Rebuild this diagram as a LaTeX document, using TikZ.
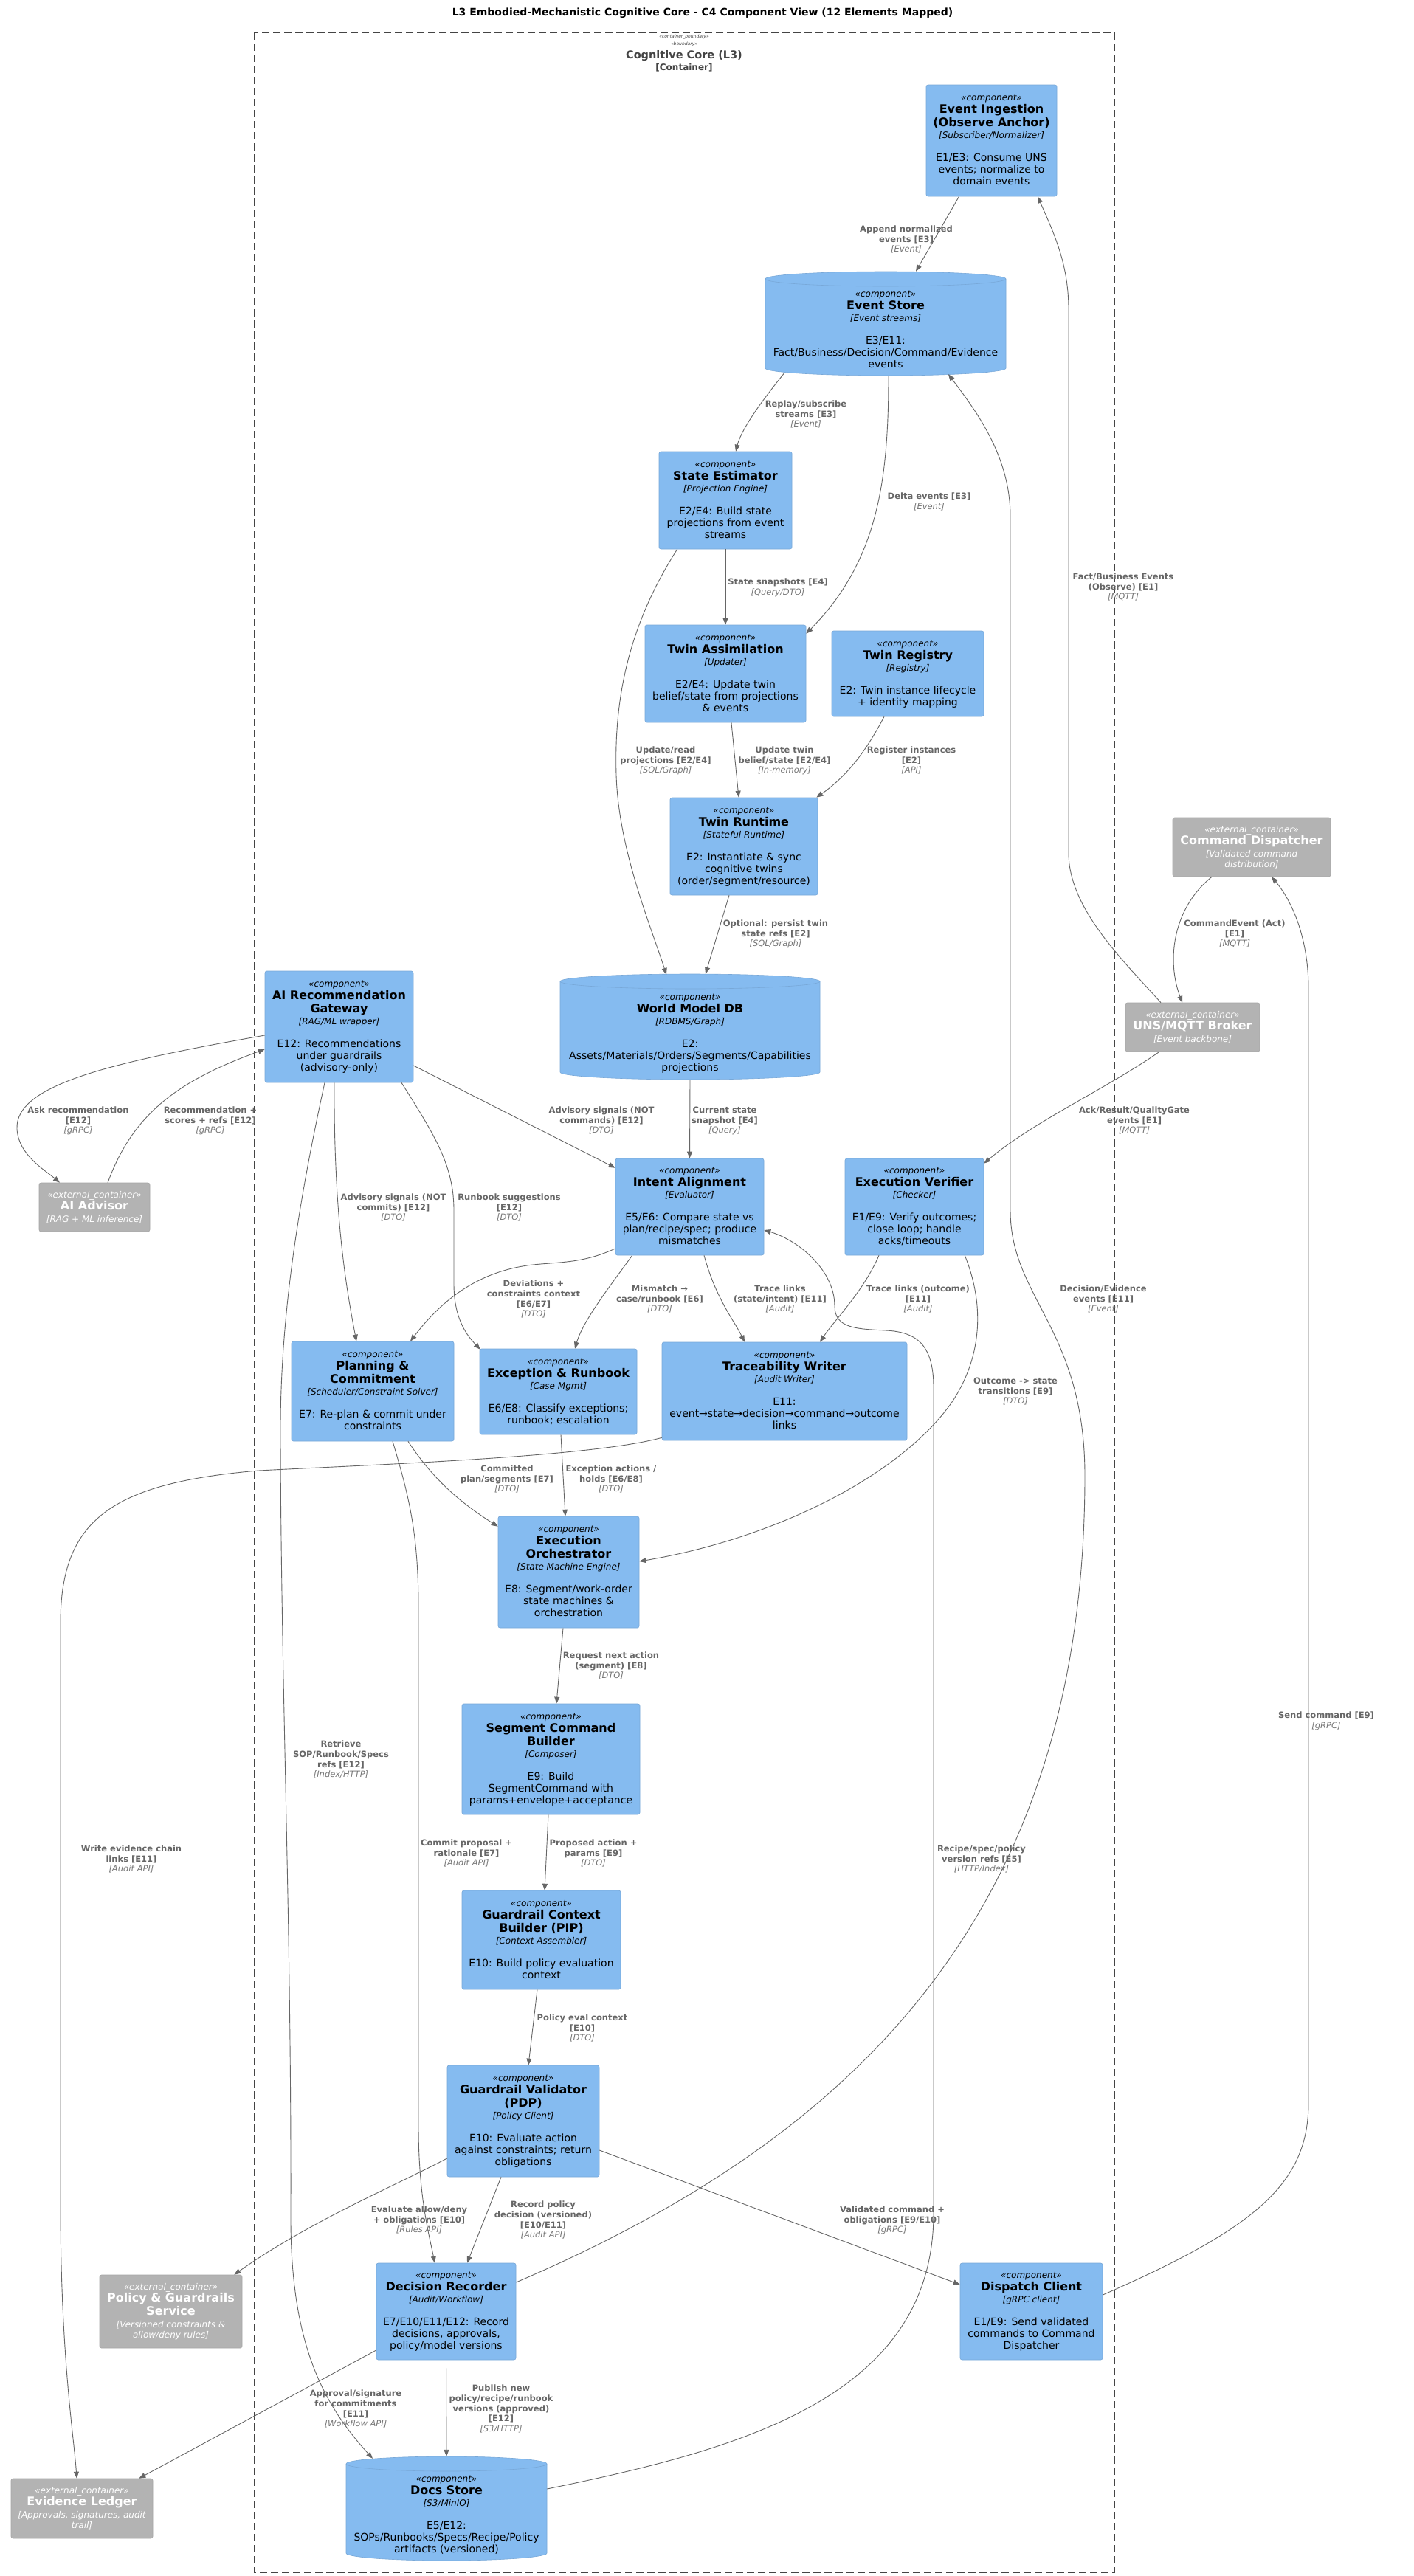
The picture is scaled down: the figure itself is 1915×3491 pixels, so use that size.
\documentclass[tikz,border=0pt]{standalone}
\usepackage{fontspec}
\setmainfont{DejaVu Sans}[BoldFont={DejaVu Sans Bold},ItalicFont={DejaVu Sans Oblique},BoldItalicFont={DejaVu Sans Bold Oblique}]
\usetikzlibrary{arrows.meta,calc}
\definecolor{compfill}{HTML}{85BBF0}
\definecolor{compline}{HTML}{78A8D8}
\definecolor{extfill}{HTML}{B3B3B3}
\definecolor{extline}{HTML}{A6A6A6}
\definecolor{relgray}{HTML}{666666}
\definecolor{lblgray}{HTML}{666666}
\definecolor{techgray}{HTML}{777777}
\definecolor{bndgray}{HTML}{444444}
\newcommand{\TB}[1]{\vbox{\offinterlineskip\halign{\hfil##\hfil\cr#1}}}
\newcommand{\RS}[1]{\vrule height10pt depth4pt width0pt{\fontsize{12}{14}\selectfont\itshape #1}}
\newcommand{\RT}[1]{\vrule height13pt depth5pt width0pt{\fontsize{16}{18}\selectfont\bfseries #1}}
\newcommand{\RK}[1]{\vrule height11pt depth4pt width0pt{\fontsize{12}{14}\selectfont\itshape #1}}
\newcommand{\RG}{\vrule height15pt depth0pt width0pt}
\newcommand{\RD}[1]{\vrule height12pt depth4pt width0pt{\fontsize{14}{16}\selectfont #1}}
\newcommand{\ES}[1]{\vrule height9pt depth3pt width0pt{\fontsize{12}{14}\selectfont\itshape #1}}
\newcommand{\ET}[1]{\vrule height13pt depth5pt width0pt{\fontsize{16}{18}\selectfont\bfseries #1}}
\newcommand{\EK}[1]{\vrule height12pt depth2pt width0pt{\fontsize{12}{14}\selectfont\itshape #1}}
\newcommand{\LB}[1]{\vrule height10pt depth3.7pt width0pt{\fontsize{11.5}{13.7}\selectfont\bfseries\color{lblgray}#1}}
\newcommand{\LI}[1]{\vrule height10pt depth3.7pt width0pt{\fontsize{11.5}{13.7}\selectfont\itshape\color{techgray}#1}}
\newcommand{\cyl}[4]{%
  \pgfmathsetmacro\cL{#1-#3/2}\pgfmathsetmacro\cR{#1+#3/2}%
  \pgfmathsetmacro\cT{#2-#4/2+10}\pgfmathsetmacro\cB{#2+#4/2-10}%
  \pgfmathsetmacro\cRx{#3/2}%
  \filldraw[fill=compfill,draw=compline,line width=0.6pt] (\cL,\cT) -- (\cL,\cB) arc[start angle=180,end angle=0,x radius=\cRx,y radius=10] -- (\cR,\cT) arc[start angle=0,end angle=-180,x radius=\cRx,y radius=10] -- cycle;
  \draw[compline,line width=0.6pt] (\cL,\cT) arc[start angle=180,end angle=0,x radius=\cRx,y radius=10];
}
\tikzset{
  comp/.style={draw=compline,fill=compfill,rounded corners=2.5pt,line width=0.6pt,inner sep=0pt,text=black},
  ext/.style={draw=extline,fill=extfill,rounded corners=2.5pt,line width=0.6pt,inner sep=0pt,text=white},
  ghost/.style={inner sep=0pt,draw=none},
  rel/.style={draw=relgray,line width=0.9pt,-{Triangle[length=9pt,width=7pt]}},
  lbl/.style={inner sep=0pt},
  bnd/.style={draw=bndgray,line width=1pt,dash pattern=on 10pt off 5pt}
}
\begin{document}
\begin{tikzpicture}[x=1pt,y=-1pt]
\fill[white] (0,0) rectangle (1915,3491);
\useasboundingbox (0,0) rectangle (1915,3491);

\node[lbl] (title) at (952,18) {\fontsize{14}{16}\selectfont\bfseries L3 Embodied-Mechanistic Cognitive Core - C4 Component View (12 Elements Mapped)};

% boundary
\draw[bnd] (344,44) rectangle (1510,3486);
\node[lbl,text=bndgray] (bst1) at (927,50) {\fontsize{6}{7}\selectfont\itshape «container\_boundary»};
\node[lbl,text=bndgray] (bst2) at (927,60) {\fontsize{6}{7}\selectfont\itshape «boundary»};
\node[lbl,text=bndgray] (bname) at (927,76) {\fontsize{14.5}{17}\selectfont\bfseries Cognitive Core (L3)};
\node[lbl,text=bndgray] (btype) at (927,92) {\fontsize{12}{14}\selectfont\bfseries [Container]};

% cylinders
\cyl{1200}{438.5}{326}{141}
\cyl{935}{1391.5}{352}{143}
\cyl{605}{3399.5}{272}{141}
\node[ghost,minimum width=326pt,minimum height=141pt] (es) at (1200,438.5) {};
\node[lbl] (es-t) at (1200,447) {\TB{\RS{«component»}\cr\RT{Event Store}\cr\RK{[Event streams]}\cr\RG\cr\RD{E3/E11:}\cr\RD{Fact/Business/Decision/Command/Evidence}\cr\RD{events}\cr}};
\node[ghost,minimum width=352pt,minimum height=143pt] (wm) at (935,1391.5) {};
\node[lbl] (wm-t) at (935,1400) {\TB{\RS{«component»}\cr\RT{World Model DB}\cr\RK{[RDBMS/Graph]}\cr\RG\cr\RD{E2:}\cr\RD{Assets/Materials/Orders/Segments/Capabilities}\cr\RD{projections}\cr}};
\node[ghost,minimum width=272pt,minimum height=141pt] (ds) at (605,3399.5) {};
\node[lbl] (ds-t) at (605,3408) {\TB{\RS{«component»}\cr\RT{Docs Store}\cr\RK{[S3/MinIO]}\cr\RG\cr\RD{E5/E12:}\cr\RD{SOPs/Runbooks/Specs/Recipe/Policy}\cr\RD{artifacts (versioned)}\cr}};

% components
\node[comp,minimum width=177pt,minimum height=151pt] (ei) at (1343.5,190.5) {\TB{\RS{«component»}\cr\RT{Event Ingestion}\cr\RT{(Observe Anchor)}\cr\RK{[Subscriber/Normalizer]}\cr\RG\cr\RD{E1/E3: Consume UNS}\cr\RD{events; normalize to}\cr\RD{domain events}\cr}};
\node[comp,minimum width=180pt,minimum height=132pt] (se) at (983,678) {\TB{\RS{«component»}\cr\RT{State Estimator}\cr\RK{[Projection Engine]}\cr\RG\cr\RD{E2/E4: Build state}\cr\RD{projections from event}\cr\RD{streams}\cr}};
\node[comp,minimum width=218pt,minimum height=132pt] (ta) at (983,913) {\TB{\RS{«component»}\cr\RT{Twin Assimilation}\cr\RK{[Updater]}\cr\RG\cr\RD{E2/E4: Update twin}\cr\RD{belief/state from projections}\cr\RD{\& events}\cr}};
\node[comp,minimum width=206pt,minimum height=116pt] (tr) at (1230,913) {\TB{\RS{«component»}\cr\RT{Twin Registry}\cr\RK{[Registry]}\cr\RG\cr\RD{E2: Twin instance lifecycle}\cr\RD{+ identity mapping}\cr}};
\node[comp,minimum width=200pt,minimum height=132pt] (rt) at (1008,1147) {\TB{\RS{«component»}\cr\RT{Twin Runtime}\cr\RK{[Stateful Runtime]}\cr\RG\cr\RD{E2: Instantiate \& sync}\cr\RD{cognitive twins}\cr\RD{(order/segment/resource)}\cr}};
\node[comp,minimum width=201pt,minimum height=151pt] (ag) at (459.5,1391.5) {\TB{\RS{«component»}\cr\RT{AI Recommendation}\cr\RT{Gateway}\cr\RK{[RAG/ML wrapper]}\cr\RG\cr\RD{E12: Recommendations}\cr\RD{under guardrails}\cr\RD{(advisory-only)}\cr}};
\node[comp,minimum width=201pt,minimum height=131pt] (ia) at (934.5,1635.5) {\TB{\RS{«component»}\cr\RT{Intent Alignment}\cr\RK{[Evaluator]}\cr\RG\cr\RD{E5/E6: Compare state vs}\cr\RD{plan/recipe/spec; produce}\cr\RD{mismatches}\cr}};
\node[comp,minimum width=188pt,minimum height=131pt] (ev) at (1239,1635.5) {\TB{\RS{«component»}\cr\RT{Execution Verifier}\cr\RK{[Checker]}\cr\RG\cr\RD{E1/E9: Verify outcomes;}\cr\RD{close loop; handle}\cr\RD{acks/timeouts}\cr}};
\node[comp,minimum width=220pt,minimum height=135pt] (pc) at (505,1885.5) {\TB{\RS{«component»}\cr\RT{Planning \&}\cr\RT{Commitment}\cr\RK{[Scheduler/Constraint Solver]}\cr\RG\cr\RD{E7: Re-plan \& commit under}\cr\RD{constraints}\cr}};
\node[comp,minimum width=213pt,minimum height=116pt] (er) at (756.5,1886) {\TB{\RS{«component»}\cr\RT{Exception \& Runbook}\cr\RK{[Case Mgmt]}\cr\RG\cr\RD{E6/E8: Classify exceptions;}\cr\RD{runbook; escalation}\cr}};
\node[comp,minimum width=332pt,minimum height=133pt] (tw) at (1063,1885.5) {\TB{\RS{«component»}\cr\RT{Traceability Writer}\cr\RK{[Audit Writer]}\cr\RG\cr\RD{E11:}\cr\RD{event→state→decision→command→outcome}\cr\RD{links}\cr}};
\node[comp,minimum width=191pt,minimum height=151pt] (eo) at (770.5,2130.5) {\TB{\RS{«component»}\cr\RT{Execution}\cr\RT{Orchestrator}\cr\RK{[State Machine Engine]}\cr\RG\cr\RD{E8: Segment/work-order}\cr\RD{state machines \&}\cr\RD{orchestration}\cr}};
\node[comp,minimum width=241pt,minimum height=150pt] (sb) at (746.5,2384) {\TB{\RS{«component»}\cr\RT{Segment Command}\cr\RT{Builder}\cr\RK{[Composer]}\cr\RG\cr\RD{E9: Build}\cr\RD{SegmentCommand with}\cr\RD{params+envelope+acceptance}\cr}};
\node[comp,minimum width=215pt,minimum height=134pt] (gc) at (733.5,2629) {\TB{\RS{«component»}\cr\RT{Guardrail Context}\cr\RT{Builder (PIP)}\cr\RK{[Context Assembler]}\cr\RG\cr\RD{E10: Build policy evaluation}\cr\RD{context}\cr}};
\node[comp,minimum width=206pt,minimum height=151pt] (gv) at (709,2874.5) {\TB{\RS{«component»}\cr\RT{Guardrail Validator}\cr\RT{(PDP)}\cr\RK{[Policy Client]}\cr\RG\cr\RD{E10: Evaluate action}\cr\RD{against constraints; return}\cr\RD{obligations}\cr}};
\node[comp,minimum width=189pt,minimum height=131pt] (dr) at (604.5,3132.5) {\TB{\RS{«component»}\cr\RT{Decision Recorder}\cr\RK{[Audit/Workflow]}\cr\RG\cr\RD{E7/E10/E11/E12: Record}\cr\RD{decisions, approvals,}\cr\RD{policy/model versions}\cr}};
\node[comp,minimum width=193pt,minimum height=131pt] (dc) at (1397.5,3132.5) {\TB{\RS{«component»}\cr\RT{Dispatch Client}\cr\RK{[gRPC client]}\cr\RG\cr\RD{E1/E9: Send validated}\cr\RD{commands to Command}\cr\RD{Dispatcher}\cr}};

% external containers
\node[ext,minimum width=214pt,minimum height=80pt] (cd) at (1696,1148) {\TB{\ES{«external\_container»}\cr\ET{Command Dispatcher}\cr\EK{[Validated command}\cr\EK{distribution]}\cr}};
\node[ext,minimum width=182pt,minimum height=66pt] (mq) at (1616,1392) {\TB{\ES{«external\_container»}\cr\ET{UNS/MQTT Broker}\cr\EK{[Event backbone]}\cr}};
\node[ext,minimum width=150pt,minimum height=66pt] (aa) at (128,1636) {\TB{\ES{«external\_container»}\cr\ET{AI Advisor}\cr\EK{[RAG + ML inference]}\cr}};
\node[ext,minimum width=193pt,minimum height=99pt] (pg) at (231.5,3132.5) {\TB{\ES{«external\_container»}\cr\ET{Policy \& Guardrails}\cr\ET{Service}\cr\EK{[Versioned constraints \&}\cr\EK{allow/deny rules]}\cr}};
\node[ext,minimum width=192pt,minimum height=81pt] (el) at (111,3399.5) {\TB{\ES{«external\_container»}\cr\ET{Evidence Ledger}\cr\EK{[Approvals, signatures, audit}\cr\EK{trail]}\cr}};

% relations
\draw[rel] ($(ei.south)+(-44,0)$) -- ($(es.north)+(41,0)$);
\draw[rel] ($(mq.north)+(-43,0)$) .. controls (1520,1300) and (1448,1230) .. (1448,1156) -- (1448,420) .. controls (1448,360) and (1430,320) .. ($(ei.south)+(62.5,0)$);
\draw[rel] ($(es.south)+(-137,-4)$) .. controls (1035,540) and (1005,580) .. ($(se.north)+(14,0)$);
\draw[rel] ($(es.south)+(4,0)$) .. controls (1204,650) and (1190,760) .. ($(ta.north east)+(0,12)$);
\draw[rel] ($(dr.east)+(0,-39.5)$) .. controls (1150,2900) and (1470,2600) .. (1470,2000) .. controls (1470,1800) and (1369,1760) .. (1369,1640) -- (1369,700) .. controls (1369,620) and (1325,560) .. ($(es.south)+(85,-2)$);
\draw[rel] (se.south) -- (ta.north);
\draw[rel] ($(se.south west)+(25,0)$) .. controls (850,850) and (832,950) .. (835,1050) .. controls (838,1150) and (880,1250) .. ($(wm.north)+(-32,1)$);
\draw[rel] ($(ta.south)+(8,0)$) -- ($(rt.north)+(-7,0)$);
\draw[rel] ($(tr.south)+(-32,0)$) .. controls (1175,1015) and (1150,1050) .. ($(rt.north east)+(-2,0)$);
\draw[rel] ($(rt.south)+(-20,0)$) -- ($(wm.north)+(21,0)$);
\draw[rel] ($(cd.south)+(-54,0)$) .. controls (1590,1230) and (1580,1300) .. ($(mq.north)+(-14,0)$);
\draw[rel] ($(dc.east)+(0,-22.5)$) .. controls (1700,3020) and (1773,2960) .. (1773,2850) -- (1773,1340) .. controls (1773,1270) and (1750,1220) .. ($(cd.south)+(27,0)$);
\draw[rel] ($(mq.south)+(-45,0)$) .. controls (1500,1475) and (1400,1520) .. ($(ev.north east)+(0,7)$);
\draw[rel] (wm.south) -- (ia.north);
\draw[rel] ($(ag.east)+(0,52.5)$) -- ($(ia.north west)+(0,13)$);
\draw[rel] ($(ag.west)+(0,11.5)$) .. controls (150,1440) and (20,1470) .. (23,1530) .. controls (25,1565) and (60,1585) .. ($(aa.north)+(-47,0)$);
\draw[rel] ($(aa.north)+(18,0)$) .. controls (180,1510) and (240,1465) .. ($(ag.west)+(0,30.5)$);
\draw[rel] ($(ag.south)+(-6.5,0)$) .. controls (452,1650) and (470,1750) .. ($(pc.north)+(-22,0)$);
\draw[rel] ($(ag.south)+(84.5,0)$) .. controls (590,1540) and (615,1580) .. (615,1640) -- (615,1740) .. controls (615,1790) and (635,1812) .. ($(er.north west)+(1,1)$);
\draw[rel] ($(ag.south)+(-19.5,0)$) .. controls (400,1650) and (379,1800) .. (380,1950) .. controls (381,2300) and (395,2600) .. (394,3000) .. controls (393,3180) and (440,3260) .. ($(ds.north)+(-100,3)$);
\draw[rel] ($(ia.west)+(0,56.5)$) .. controls (790,1712) and (760,1710) .. (722,1714) .. controls (650,1722) and (600,1760) .. ($(pc.north)+(51,0)$);
\draw[rel] ($(ia.south west)+(23,0)$) .. controls (825,1745) and (790,1790) .. ($(er.north)+(22.5,0)$);
\draw[rel] ($(ia.south)+(19.5,0)$) .. controls (970,1760) and (995,1790) .. ($(tw.north)+(-54,0)$);
\draw[rel] ($(ev.south)+(-48,0)$) .. controls (1170,1750) and (1130,1790) .. ($(tw.north)+(48,0)$);
\draw[rel] ($(ev.south east)+(-26,0)$) .. controls (1335,1770) and (1330,1840) .. (1290,1900) .. controls (1220,2000) and (1050,2085) .. ($(eo.east)+(0,-14.5)$);
\draw[rel] ($(pc.south)+(48,0)$) .. controls (590,2010) and (630,2040) .. ($(eo.north west)+(0,14)$);
\draw[rel] ($(er.south)+(3.5,0)$) -- ($(eo.north)+(-4.5,0)$);
\draw[rel] ($(eo.south)+(-7.5,0)$) -- ($(sb.north)+(7.5,0)$);
\draw[rel] ($(sb.south)+(-3.5,0)$) -- ($(gc.north)+(4.5,0)$);
\draw[rel] ($(gc.south)+(-5.5,0)$) -- ($(gv.north)+(7,0)$);
\draw[rel] ($(gv.west)+(0,50.5)$) .. controls (540,2960) and (420,3010) .. ($(pg.north east)+(-11,0)$);
\draw[rel] ($(gv.south)+(-30,0)$) -- ($(dr.north)+(28.5,0)$);
\draw[rel] ($(gv.east)+(0,39.5)$) -- ($(dc.west)+(0,-36.5)$);
\draw[rel] ($(dr.west)+(0,52.5)$) -- ($(el.north east)+(-19,0)$);
\draw[rel] (dr.south) -- (ds.north);
\draw[rel] ($(pc.south)+(27,0)$) .. controls (555,2030) and (567,2080) .. (567,2180) -- (567,2880) .. controls (567,2980) and (582,3030) .. ($(dr.north)+(-15.5,0)$);
\draw[rel] ($(ds.east)+(0,-26.5)$) .. controls (1000,3320) and (1265,3250) .. (1265,3000) -- (1265,1880) .. controls (1265,1820) and (1240,1805) .. (1200,1803) .. controls (1160,1801) and (1131,1800) .. (1131,1770) .. controls (1131,1720) and (1080,1680) .. ($(ia.east)+(0,31.5)$);
\draw[rel] ($(tw.south west)+(0,-4)$) .. controls (800,1975) and (500,1985) .. (350,1993) .. controls (150,2010) and (82,2060) .. (82,2200) -- (82,3000) .. controls (83,3200) and (100,3300) .. ($(el.north)+(-7,0)$);

% labels
\node[lbl] (l1) at (1228,325) {\TB{\LB{Append normalized}\cr\LB{events [E3]}\cr\LI{[Event]}\cr}};
\node[lbl] (l2) at (1522,796) {\TB{\LB{Fact/Business Events}\cr\LB{(Observe) [E1]}\cr\LI{[MQTT]}\cr}};
\node[lbl] (l3) at (1092,562) {\TB{\LB{Replay/subscribe}\cr\LB{streams [E3]}\cr\LI{[Event]}\cr}};
\node[lbl] (l4) at (1259,680) {\TB{\LB{Delta events [E3]}\cr\LI{[Event]}\cr}};
\node[lbl] (l5) at (1495,1761) {\TB{\LB{Decision/Evidence}\cr\LB{events [E11]}\cr\LI{[Event]}\cr}};
\node[lbl] (l6) at (1054,796) {\TB{\LB{State snapshots [E4]}\cr\LI{[Query/DTO]}\cr}};
\node[lbl] (l7) at (902,1031) {\TB{\LB{Update/read}\cr\LB{projections [E2/E4]}\cr\LI{[SQL/Graph]}\cr}};
\node[lbl] (l8) at (1063,1031) {\TB{\LB{Update twin}\cr\LB{belief/state [E2/E4]}\cr\LI{[In-memory]}\cr}};
\node[lbl] (l9) at (1235,1031) {\TB{\LB{Register instances}\cr\LB{[E2]}\cr\LI{[API]}\cr}};
\node[lbl] (l10) at (1051,1266) {\TB{\LB{Optional: persist twin}\cr\LB{state refs [E2]}\cr\LI{[SQL/Graph]}\cr}};
\node[lbl] (l11) at (1673,1266) {\TB{\LB{CommandEvent (Act)}\cr\LB{[E1]}\cr\LI{[MQTT]}\cr}};
\node[lbl] (l12) at (1797,2332) {\TB{\LB{Send command [E9]}\cr\LI{[gRPC]}\cr}};
\node[lbl] (l13) at (1537,1519) {\TB{\LB{Ack/Result/QualityGate}\cr\LB{events [E1]}\cr\LI{[MQTT]}\cr}};
\node[lbl] (l14) at (982,1519) {\TB{\LB{Current state}\cr\LB{snapshot [E4]}\cr\LI{[Query]}\cr}};
\node[lbl] (l15) at (815,1519) {\TB{\LB{Advisory signals (NOT}\cr\LB{commands) [E12]}\cr\LI{[DTO]}\cr}};
\node[lbl] (l16) at (106,1519) {\TB{\LB{Ask recommendation}\cr\LB{[E12]}\cr\LI{[gRPC]}\cr}};
\node[lbl] (l17) at (285,1519) {\TB{\LB{Recommendation +}\cr\LB{scores + refs [E12]}\cr\LI{[gRPC]}\cr}};
\node[lbl] (l18) at (533,1637) {\TB{\LB{Advisory signals (NOT}\cr\LB{commits) [E12]}\cr\LI{[DTO]}\cr}};
\node[lbl] (l19) at (690,1637) {\TB{\LB{Runbook suggestions}\cr\LB{[E12]}\cr\LI{[DTO]}\cr}};
\node[lbl] (l20) at (462,2385) {\TB{\LB{Retrieve}\cr\LB{SOP/Runbook/Specs}\cr\LB{refs [E12]}\cr\LI{[Index/HTTP]}\cr}};
\node[lbl] (l21) at (723,1761) {\TB{\LB{Deviations +}\cr\LB{constraints context}\cr\LB{[E6/E7]}\cr\LI{[DTO]}\cr}};
\node[lbl] (l22) at (894,1761) {\TB{\LB{Mismatch →}\cr\LB{case/runbook [E6]}\cr\LI{[DTO]}\cr}};
\node[lbl] (l23) at (1057,1761) {\TB{\LB{Trace links}\cr\LB{(state/intent) [E11]}\cr\LI{[Audit]}\cr}};
\node[lbl] (l24) at (1244,1761) {\TB{\LB{Trace links (outcome)}\cr\LB{[E11]}\cr\LI{[Audit]}\cr}};
\node[lbl] (l25) at (1376,1886) {\TB{\LB{Outcome -> state}\cr\LB{transitions [E9]}\cr\LI{[DTO]}\cr}};
\node[lbl] (l26) at (687,2005) {\TB{\LB{Committed}\cr\LB{plan/segments [E7]}\cr\LI{[DTO]}\cr}};
\node[lbl] (l27) at (828,2005) {\TB{\LB{Exception actions /}\cr\LB{holds [E6/E8]}\cr\LI{[DTO]}\cr}};
\node[lbl] (l28) at (828,2258) {\TB{\LB{Request next action}\cr\LB{(segment) [E8]}\cr\LI{[DTO]}\cr}};
\node[lbl] (l29) at (804,2512) {\TB{\LB{Proposed action +}\cr\LB{params [E9]}\cr\LI{[DTO]}\cr}};
\node[lbl] (l30) at (789,2749) {\TB{\LB{Policy eval context}\cr\LB{[E10]}\cr\LI{[DTO]}\cr}};
\node[lbl] (l31) at (568,3009) {\TB{\LB{Evaluate allow/deny}\cr\LB{+ obligations [E10]}\cr\LI{[Rules API]}\cr}};
\node[lbl] (l32) at (736,3009) {\TB{\LB{Record policy}\cr\LB{decision (versioned)}\cr\LB{[E10/E11]}\cr\LI{[Audit API]}\cr}};
\node[lbl] (l33) at (1209,3009) {\TB{\LB{Validated command +}\cr\LB{obligations [E9/E10]}\cr\LI{[gRPC]}\cr}};
\node[lbl] (l34) at (482,3265) {\TB{\LB{Approval/signature}\cr\LB{for commitments}\cr\LB{[E11]}\cr\LI{[Workflow API]}\cr}};
\node[lbl] (l35) at (679,3265) {\TB{\LB{Publish new}\cr\LB{policy/recipe/runbook}\cr\LB{versions (approved)}\cr\LB{[E12]}\cr\LI{[S3/HTTP]}\cr}};
\node[lbl] (l36) at (632,2512) {\TB{\LB{Commit proposal +}\cr\LB{rationale [E7]}\cr\LI{[Audit API]}\cr}};
\node[lbl] (l37) at (1330,2520) {\TB{\LB{Recipe/spec/policy}\cr\LB{version refs [E5]}\cr\LI{[HTTP/Index]}\cr}};
\node[lbl] (l38) at (178,2520) {\TB{\LB{Write evidence chain}\cr\LB{links [E11]}\cr\LI{[Audit API]}\cr}};
\end{tikzpicture}
\end{document}
